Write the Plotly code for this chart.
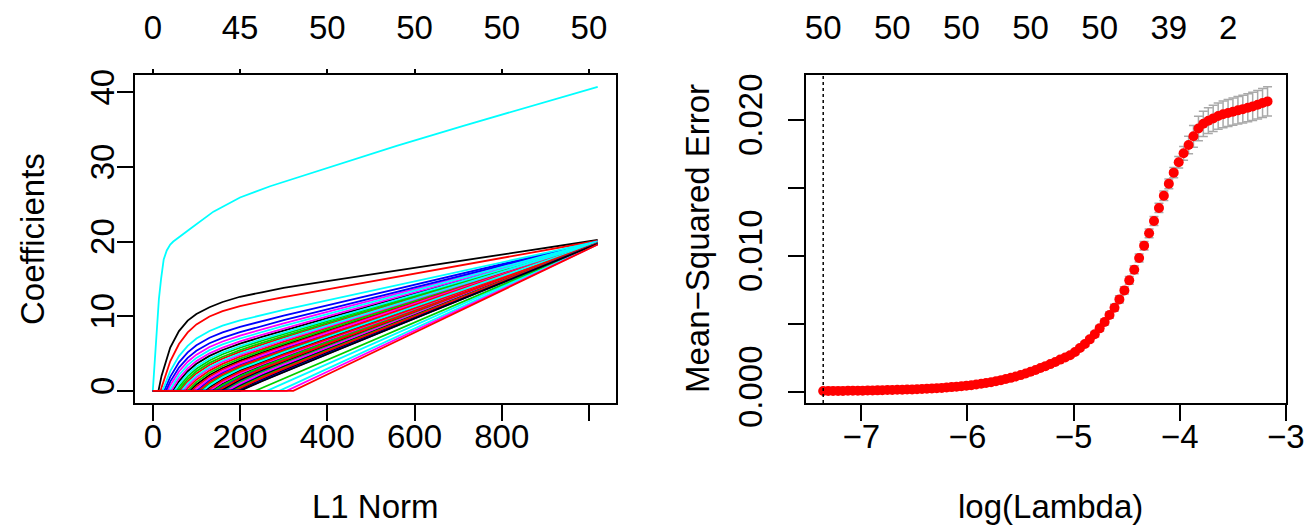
import plotly.graph_objects as go

# ---------------- data: coefficient paths (left panel) ----------------
l1_grid = [0, 20, 40, 60, 80, 100, 130, 160, 200, 250, 300, 400, 1020]

entry_l1 = [13, 18, 54, 26, 0, 34, 46, 62, 58, 30,
            22, 42, 85, 75, 80, 100, 38, 70, 120, 90,
            110, 145, 50, 95, 135, 105, 140, 160, 66, 130,
            155, 125, 165, 175, 115, 170, 180, 150, 184, 191,
            262, 196, 194, 188, 235, 198, 290, 307, 199, 322]

coef_v01 = [0, 2.0, 5.8, 8.0, 9.4, 10.3, 11.2, 11.9, 12.6, 13.2, 13.8, 14.7, 20.2]
coef_v02 = [0, 0.43, 3.95, 6.27, 7.83, 8.9, 9.96, 10.67, 11.34, 11.98, 12.56, 13.6, 20.1]
coef_v03 = [0, 0, 0, 0.53, 1.94, 2.96, 4.07, 4.9, 5.77, 6.72, 7.61, 9.33, 19.95]
coef_v04 = [0, 0, 1.88, 3.81, 5.15, 6.1, 7.11, 7.83, 8.56, 9.35, 10.08, 11.45, 20.0]
coef_v06 = [0, 0, 0.72, 2.59, 3.9, 4.85, 5.87, 6.61, 7.4, 8.25, 9.05, 10.57, 20.0]
coef_v07 = [0, 0, 0, 1.27, 2.63, 3.62, 4.68, 5.47, 6.32, 7.22, 8.09, 9.73, 19.95]
coef_v08 = [0, 0, 0, 0, 1.28, 2.33, 3.47, 4.31, 5.22, 6.2, 7.12, 8.9, 19.9]
coef_v09 = [0, 0, 0, 0.17, 1.58, 2.62, 3.74, 4.57, 5.46, 6.42, 7.34, 9.09, 19.95]
coef_v10 = [0, 0, 1.24, 3.12, 4.42, 5.37, 6.37, 7.1, 7.86, 8.68, 9.46, 10.92, 20.0]
coef_v11 = [0, 0, 2.64, 4.65, 6.02, 7.0, 8.01, 8.72, 9.43, 10.15, 10.84, 12.11, 20.0]
coef_v12 = [0, 0, 0, 1.68, 3.01, 3.98, 5.02, 5.79, 6.62, 7.51, 8.35, 9.96, 19.95]
coef_v13 = [0, 0, 0, 0, 0, 0.85, 2.13, 3.06, 4.05, 5.11, 6.12, 8.03, 19.9]
coef_v14 = [0, 0, 0, 0, 0.35, 1.49, 2.71, 3.61, 4.57, 5.59, 6.57, 8.42, 19.9]
coef_v15 = [0, 0, 0, 0, 0, 1.17, 2.42, 3.33, 4.31, 5.35, 6.34, 8.23, 19.9]
coef_v16 = [0, 0, 0, 0, 0, 0, 1.42, 2.44, 3.49, 4.6, 5.63, 7.62, 19.85]
coef_v17 = [0, 0, 0.23, 2.13, 3.45, 4.41, 5.45, 6.21, 7.01, 7.88, 8.71, 10.28, 20.0]
coef_v18 = [0, 0, 0, 0, 0.7, 1.81, 3.01, 3.89, 4.82, 5.83, 6.79, 8.61, 19.9]
coef_v19 = [0, 0, 0, 0, 0, 0, 0.47, 1.59, 2.73, 3.91, 4.99, 7.07, 19.85]
coef_v20 = [0, 0, 0, 0, 0, 0.57, 1.89, 2.85, 3.86, 4.94, 5.96, 7.9, 19.9]
coef_v21 = [0, 0, 0, 0, 0, 0, 0.94, 2.01, 3.11, 4.25, 5.31, 7.35, 19.85]
coef_v22 = [0, 0, 0, 0, 0, 0, 0, 0.58, 1.82, 3.08, 4.22, 6.41, 19.8]
coef_v23 = [0, 0, 0, 0.89, 2.26, 3.26, 4.34, 5.14, 6.0, 6.93, 7.82, 9.5, 19.95]
coef_v24 = [0, 0, 0, 0, 0, 0.29, 1.66, 2.64, 3.67, 4.76, 5.8, 7.75, 19.85]
coef_v25 = [0, 0, 0, 0, 0, 0, 0, 0.96, 2.15, 3.37, 4.48, 6.63, 19.8]
coef_v26 = [0, 0, 0, 0, 0, 0, 1.18, 2.23, 3.3, 4.43, 5.47, 7.49, 19.85]
coef_v27 = [0, 0, 0, 0, 0, 0, 0, 0.77, 1.98, 3.22, 4.35, 6.52, 19.8]
coef_v28 = [0, 0, 0, 0, 0, 0, 0, 0, 1.33, 2.64, 3.82, 6.07, 19.8]
coef_v29 = [0, 0, 0, 0, 0.97, 2.04, 3.2, 4.06, 4.98, 5.97, 6.92, 8.72, 19.9]
coef_v30 = [0, 0, 0, 0, 0, 0, 0, 1.17, 2.34, 3.55, 4.65, 6.77, 19.8]
coef_v31 = [0, 0, 0, 0, 0, 0, 0, 0.19, 1.5, 2.79, 3.95, 6.18, 19.8]
coef_v32 = [0, 0, 0, 0, 0, 0, 0.23, 1.38, 2.53, 3.72, 4.81, 6.91, 19.8]
coef_v33 = [0, 0, 0, 0, 0, 0, 0, 0, 1.16, 2.49, 3.67, 5.94, 19.75]
coef_v34 = [0, 0, 0, 0, 0, 0, 0, 0, 0.8, 2.15, 3.36, 5.66, 19.75]
coef_v35 = [0, 0, 0, 0, 0, 0, 0.7, 1.8, 2.92, 4.08, 5.15, 7.21, 19.85]
coef_v36 = [0, 0, 0, 0, 0, 0, 0, 0, 0.97, 2.3, 3.5, 5.78, 19.75]
coef_v37 = [0, 0, 0, 0, 0, 0, 0, 0, 0.64, 2.0, 3.22, 5.54, 19.75]
coef_v38 = [0, 0, 0, 0, 0, 0, 0, 0.39, 1.66, 2.94, 4.09, 6.3, 19.8]
coef_v39 = [0, 0, 0, 0, 0, 0, 0, 0, 0.5, 1.87, 3.09, 5.44, 19.75]
coef_v40 = [0, 0, 0, 0, 0, 0, 0, 0, 0.27, 1.6, 2.83, 5.2, 19.75]
coef_v41 = [0, 0, 0, 0, 0, 0, 0, 0, 0, 0, 0.99, 3.58, 19.65]
coef_v42 = [0, 0, 0, 0, 0, 0, 0, 0, 0.11, 1.42, 2.64, 5.03, 19.7]
coef_v43 = [0, 0, 0, 0, 0, 0, 0, 0, 0.17, 1.5, 2.72, 5.1, 19.7]
coef_v44 = [0, 0, 0, 0, 0, 0, 0, 0, 0.37, 1.74, 2.97, 5.33, 19.75]
coef_v45 = [0, 0, 0, 0, 0, 0, 0, 0, 0, 0.38, 1.63, 4.14, 19.7]
coef_v46 = [0, 0, 0, 0, 0, 0, 0, 0, 0.05, 1.34, 2.56, 4.95, 19.7]
coef_v47 = [0, 0, 0, 0, 0, 0, 0, 0, 0, 0, 0.27, 2.96, 19.65]
coef_v48 = [0, 0, 0, 0, 0, 0, 0, 0, 0, 0, 0, 2.56, 19.6]
coef_v49 = [0, 0, 0, 0, 0, 0, 0, 0, 0.01, 1.28, 2.5, 4.9, 19.7]
coef_v50 = [0, 0, 0, 0, 0, 0, 0, 0, 0, 0, 0, 2.19, 19.6]

# variable 5 (the large one) read on its own finer set of L1 positions
l1_v05 = [0, 4, 9, 14, 19, 25, 32, 40, 47, 60, 86, 139, 200, 269, 406, 559, 712, 870, 1020]
coef_v05 = [0, 4.0, 8.5, 12.3, 15.0, 17.6, 18.8, 19.6, 20.0, 20.6, 21.7, 24.0, 25.9,
            27.4, 30.0, 32.8, 35.5, 38.2, 40.7]

top_df_pos = [0, 200, 400, 600, 800, 1000]
top_df_labels = ["0", "45", "50", "50", "50", "50"]

# ---------------- data: cross-validation curve (right panel) ----------------
log_lambda = [-3.172, -3.219, -3.265, -3.312, -3.358, -3.405, -3.451, -3.498, -3.544, -3.591,
              -3.637, -3.684, -3.730, -3.777, -3.823, -3.870, -3.916, -3.963, -4.009, -4.056,
              -4.102, -4.149, -4.195, -4.242, -4.288, -4.335, -4.382, -4.428, -4.475, -4.521,
              -4.568, -4.614, -4.661, -4.707, -4.754, -4.800, -4.847, -4.893, -4.940, -4.986,
              -5.033, -5.079, -5.126, -5.172, -5.219, -5.265, -5.312, -5.358, -5.405, -5.451,
              -5.498, -5.545, -5.591, -5.638, -5.684, -5.731, -5.777, -5.824, -5.870, -5.917,
              -5.963, -6.010, -6.056, -6.103, -6.149, -6.196, -6.242, -6.289, -6.335, -6.382,
              -6.428, -6.475, -6.521, -6.568, -6.614, -6.661, -6.708, -6.754, -6.801, -6.847,
              -6.894, -6.940, -6.987, -7.033, -7.080, -7.126, -7.173, -7.219, -7.266, -7.312,
              -7.359]

cv_mse = [0.02135, 0.02123, 0.02110, 0.02098, 0.02088, 0.02078, 0.02069, 0.02059, 0.02050, 0.02040,
          0.02027, 0.02010, 0.01993, 0.01970, 0.01935, 0.01878, 0.01814, 0.01753, 0.01687, 0.01611,
          0.01529, 0.01441, 0.01351, 0.01255, 0.01165, 0.01074, 0.00983, 0.00897, 0.00819, 0.00745,
          0.00679, 0.00618, 0.00564, 0.00513, 0.00466, 0.00422, 0.00385, 0.00351, 0.00321, 0.00292,
          0.00268, 0.00252, 0.00236, 0.00219, 0.00203, 0.00188, 0.00174, 0.00160, 0.00147, 0.00134,
          0.00122, 0.00112, 0.00102, 0.00093, 0.00085, 0.00077, 0.00070, 0.00064, 0.00058, 0.00053,
          0.00048, 0.00044, 0.00040, 0.00037, 0.00034, 0.00031, 0.00028, 0.00026, 0.00024, 0.00022,
          0.00020, 0.00019, 0.00017, 0.00016, 0.00015, 0.00014, 0.00013, 0.00012, 0.00011, 0.00010,
          0.00009, 0.00009, 0.00008, 0.00008, 0.00007, 0.00007, 0.00006, 0.00006, 0.00006, 0.00005,
          0.00005]

cv_sd = [0.00107, 0.00106, 0.00105, 0.00104, 0.00103, 0.00102, 0.00101, 0.00100, 0.00099, 0.00098,
         0.00097, 0.00096, 0.00095, 0.00093, 0.00090, 0.00080, 0.00065, 0.00050, 0.00042, 0.00038,
         0.00036, 0.00035, 0.00034, 0.00033, 0.00032, 0.00031, 0.00030, 0.00029, 0.00028, 0.00027,
         0.00026, 0.00025, 0.00023, 0.00022, 0.00021, 0.00020, 0.00018, 0.00017, 0.00016, 0.00015,
         0.00014, 0.00013, 0.00012, 0.00011, 0.00010, 0.00010, 0.00009, 0.00008, 0.00008, 0.00007,
         0.00007, 0.00006, 0.00006, 0.00005, 0.00005, 0.00005, 0.00004, 0.00004, 0.00004, 0.00004,
         0.00003, 0.00003, 0.00003, 0.00003, 0.00003, 0.00003, 0.00003, 0.00003, 0.00003, 0.00003,
         0.00002, 0.00002, 0.00002, 0.00002, 0.00002, 0.00002, 0.00002, 0.00002, 0.00002, 0.00002,
         0.00001, 0.00001, 0.00001, 0.00001, 0.00001, 0.00001, 0.00001, 0.00001, 0.00001, 0.00001,
         0.00001]

log_lambda_min = -7.359

top_nz_pos = [-7.359, -6.708, -6.056, -5.405, -4.754, -4.102, -3.544]
top_nz_labels = ["50", "50", "50", "50", "50", "39", "2"]

# ---------------- figure ----------------
# the page body keeps its default 8px margin, so the figure starts at (8, 8)
OFF = 8
W, H = 1313 - OFF, 526 - OFF
FONT = "Liberation Sans, Arial, Helvetica, sans-serif"
FS = 33
palette = ["#000000", "#FF0000", "#00CD00", "#0000FF", "#00FFFF", "#FF00FF"]

coefs = [coef_v01, coef_v02, coef_v03, coef_v04, coef_v05, coef_v06, coef_v07, coef_v08,
         coef_v09, coef_v10, coef_v11, coef_v12, coef_v13, coef_v14, coef_v15, coef_v16,
         coef_v17, coef_v18, coef_v19, coef_v20, coef_v21, coef_v22, coef_v23, coef_v24,
         coef_v25, coef_v26, coef_v27, coef_v28, coef_v29, coef_v30, coef_v31, coef_v32,
         coef_v33, coef_v34, coef_v35, coef_v36, coef_v37, coef_v38, coef_v39, coef_v40,
         coef_v41, coef_v42, coef_v43, coef_v44, coef_v45, coef_v46, coef_v47, coef_v48,
         coef_v49, coef_v50]

fig = go.Figure()

for i, (e, vals) in enumerate(zip(entry_l1, coefs)):
    if i == 4:
        xs, ys = l1_v05, coef_v05
    else:
        xs = [0, e] + [g for g in l1_grid if g > e]
        ys = [0, 0] + [v for g, v in zip(l1_grid, vals) if g > e]
    fig.add_trace(go.Scatter(x=xs, y=ys, mode="lines", xaxis="x", yaxis="y",
                             line=dict(color=palette[i % 6], width=1.8),
                             showlegend=False, hoverinfo="skip"))

fig.add_trace(go.Scatter(
    x=log_lambda, y=cv_mse, mode="markers", xaxis="x2", yaxis="y2",
    marker=dict(color="#FF0000", size=10, line=dict(width=0)),
    error_y=dict(type="data", array=cv_sd, color="#A9A9A9", thickness=1.5, width=4.5),
    showlegend=False))

# invisible carriers so the top axes get drawn
fig.add_trace(go.Scatter(x=top_df_pos, y=[0] * len(top_df_pos), xaxis="x3", yaxis="y",
                         mode="markers", marker=dict(opacity=0), showlegend=False, hoverinfo="skip"))
fig.add_trace(go.Scatter(x=top_nz_pos, y=[0] * len(top_nz_pos), xaxis="x4", yaxis="y2",
                         mode="markers", marker=dict(opacity=0), showlegend=False, hoverinfo="skip"))

px2x = lambda p: (p - OFF) / W
px2y = lambda p: 1 - (p - OFF) / H

dom_y = [px2y(403), px2y(75)]
dom_x1 = [px2x(135), px2x(615.5)]
dom_x2 = [px2x(805.7), px2x(1286)]

axis_common = dict(showline=True, linecolor="black", linewidth=1.5, mirror=True,
                   showgrid=False, zeroline=False, ticks="outside", ticklen=16,
                   tickwidth=1.5, tickcolor="black", automargin=False,
                   tickfont=dict(family=FONT, size=FS, color="black"))
top_common = dict(showline=False, showgrid=False, zeroline=False, automargin=False,
                  tickfont=dict(family=FONT, size=FS, color="black"))

x1_range = [-40.8, 1060.8]
x2_range = [-7.524, -2.998]

fig.update_layout(
    width=W, height=H, margin=dict(l=0, r=0, t=0, b=0),
    paper_bgcolor="white", plot_bgcolor="white",
    font=dict(family=FONT, size=FS, color="black"),
    xaxis=dict(domain=dom_x1, anchor="y", range=x1_range,
               tickvals=[0, 200, 400, 600, 800, 1000],
               ticktext=["0", "200", "400", "600", "800", ""],
               ticklabelstandoff=-12, **axis_common),
    yaxis=dict(domain=dom_y, anchor="x", range=[-1.63, 42.3],
               tickvals=[0, 10, 20, 30, 40], ticktext=["0", "10", "20", "30", "40"],
               tickangle=-90, ticklabelstandoff=-10, **axis_common),
    xaxis3=dict(overlaying="x", anchor="y", side="top", range=x1_range,
                tickvals=top_df_pos, ticktext=top_df_labels,
                ticks="outside", ticklen=5, tickwidth=1.5, tickcolor="black",
                ticklabelstandoff=17, **top_common),
    xaxis2=dict(domain=dom_x2, anchor="y2", range=x2_range,
                tickvals=[-7, -6, -5, -4, -3],
                ticktext=["\u22127", "\u22126", "\u22125", "\u22124", "\u22123"],
                ticklabelstandoff=-12, **axis_common),
    yaxis2=dict(domain=dom_y, anchor="x2", range=[-0.00083, 0.02329],
                tickvals=[0, 0.005, 0.010, 0.015, 0.020],
                ticktext=["0.000", "", "0.010", "", "0.020"],
                tickangle=-90, ticklabelstandoff=13, **axis_common),
    xaxis4=dict(overlaying="x2", anchor="y2", side="top", range=x2_range,
                tickvals=top_nz_pos, ticktext=top_nz_labels, ticks="",
                ticklabelstandoff=28, **top_common),
)

# dotted line at lambda.min
fig.add_shape(type="line", xref="x2", yref="y2 domain", x0=log_lambda_min, x1=log_lambda_min,
              y0=0, y1=1, line=dict(color="black", width=1.5, dash="dot"))

ann_font = dict(family=FONT, size=FS, color="black")
fig.add_annotation(text="Coefficients", xref="paper", yref="paper", x=px2x(32), y=px2y(239),
                   textangle=-90, showarrow=False, font=ann_font, xanchor="center", yanchor="middle")
fig.add_annotation(text="L1 Norm", xref="paper", yref="paper", x=px2x(375), y=px2y(506),
                   showarrow=False, font=ann_font, xanchor="center", yanchor="middle")
fig.add_annotation(text="Mean\u2212Squared Error", xref="paper", yref="paper", x=px2x(697), y=px2y(239),
                   textangle=-90, showarrow=False, font=ann_font, xanchor="center", yanchor="middle")
fig.add_annotation(text="log(Lambda)", xref="paper", yref="paper", x=px2x(1050), y=px2y(506),
                   showarrow=False, font=ann_font, xanchor="center", yanchor="middle")

fig.write_html("out.html")
